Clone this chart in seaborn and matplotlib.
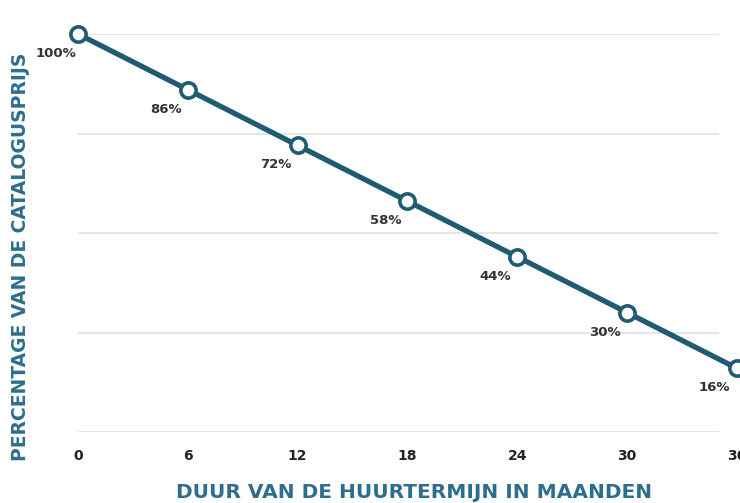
import seaborn as sns
import matplotlib.pyplot as plt
import pandas as pd

# Data
months = [0, 6, 12, 18, 24, 30, 36]
pct = [100, 86, 72, 58, 44, 30, 16]
labels = ["100%", "86%", "72%", "58%", "44%", "30%", "16%"]
grid_levels = [0, 25, 50, 75, 100]

df = pd.DataFrame({"maanden": months, "pct": pct})

sns.set_style("white")
plt.rcParams['font.family'] = ['DejaVu Sans']

line_col = "#1f5b73"
label_col = "#2d6e8c"

fig = plt.figure(figsize=(7.4, 5.03), dpi=100)
ax = fig.add_axes([78 / 740, 71 / 503, 659 / 740, 398 / 503])

# Grid lines
ax.hlines(grid_levels, 0, 35, color="#e0e0e0", lw=1.2, zorder=0)

sns.lineplot(data=df, x="maanden", y="pct", ax=ax, color=line_col, lw=3.8,
             marker="o", markersize=11, markerfacecolor="white",
             markeredgecolor=line_col, markeredgewidth=2.6, clip_on=False)

for x, y, t in zip(months, pct, labels):
    ax.annotate(t, (x, y), xytext=(-16, -14), textcoords="offset points",
                ha="center", va="center", fontsize=9.5, fontweight="bold",
                color="#333333")

ax.set_xlim(0, 36)
ax.set_ylim(0, 100)
ax.set_xticks(months)
ax.set_yticks([])
ax.tick_params(axis="x", length=0, pad=12, labelsize=10, labelcolor="#222222")
for t in ax.get_xticklabels():
    t.set_fontweight("bold")

ax.set_xlabel("DUUR VAN DE HUURTERMIJN IN MAANDEN", fontsize=14.5,
              fontweight="bold", color=label_col, va="center")
ax.xaxis.set_label_coords(0.51, -0.151)
ax.set_ylabel("PERCENTAGE VAN DE CATALOGUSPRIJS", fontsize=13.5,
              fontweight="bold", color=label_col, va="center")
ax.yaxis.set_label_coords(-0.088, 0.44)

sns.despine(ax=ax, left=True, bottom=True)

fig.savefig("out.png", dpi=100)
